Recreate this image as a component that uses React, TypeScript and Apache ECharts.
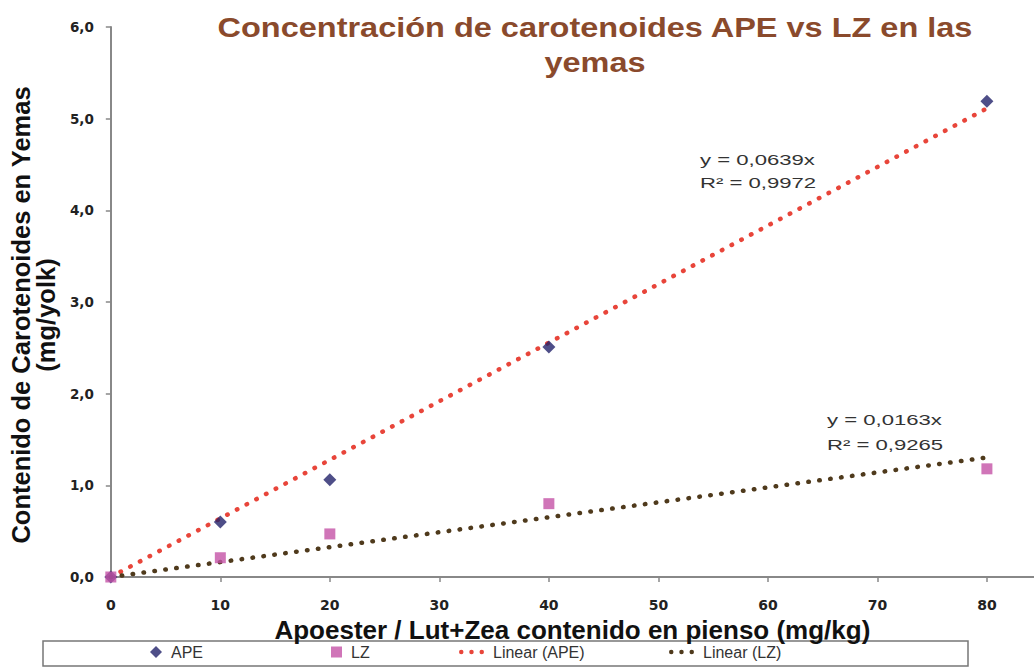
import React, { useEffect, useRef } from "react";
import * as echarts from "echarts";

const doses = [0, 10, 20, 40, 80];
const apeValues = [0, 0.6, 1.06, 2.51, 5.19];
const lzValues = [0, 0.21, 0.47, 0.8, 1.18];
const apeSlope = 0.0639;
const lzSlope = 0.0163;
const trendX = [0, 80];
const xTicks = [0, 10, 20, 30, 40, 50, 60, 70, 80];
const apeEq = ["y = 0,0639x", "R² = 0,9972"];
const lzEq = ["y = 0,0163x", "R² = 0,9265"];

const titleText = "Concentración de carotenoides APE vs LZ en las\nyemas";
const xName = "Apoester / Lut+Zea contenido en pienso (mg/kg)";
const yName = "Contenido de Carotenoides en Yemas\n(mg/yolk)";

const dotsIcon = "path://M0,5a2.2,2.2 0 1,0 4.4,0a2.2,2.2 0 1,0 -4.4,0M10,5a2.2,2.2 0 1,0 4.4,0a2.2,2.2 0 1,0 -4.4,0M20,5a2.2,2.2 0 1,0 4.4,0a2.2,2.2 0 1,0 -4.4,0";

export default function App() {
  const ref = useRef<HTMLDivElement>(null);
  useEffect(() => {
    const chart = echarts.init(ref.current!, null, { renderer: "svg" });
    const font = "'Liberation Sans', Arial, sans-serif";
    const wide = "'DejaVu Sans', Verdana, sans-serif";
    const legendBase = {
      top: 639,
      itemGap: 0,
      textStyle: { fontFamily: font, fontSize: 16, color: "#333", padding: [0, 0, 0, 4] },
    };
    chart.setOption({
      animation: false,
      backgroundColor: "#fff",
      grid: { left: 107, right: 0, top: 27, bottom: 91, containLabel: false },
      xAxis: {
        type: "value",
        min: 0,
        max: 84.3,
        interval: 10,
        name: xName,
        nameLocation: "middle",
        nameGap: 37,
        nameTextStyle: { fontFamily: font, fontSize: 26, fontWeight: "bold", color: "#111" },
        axisLine: { lineStyle: { color: "#888", width: 2 } },
        axisTick: { show: true, length: 5, customValues: xTicks, lineStyle: { color: "#888", width: 1.5 } },
        axisLabel: {
          customValues: xTicks,
          fontFamily: wide,
          fontSize: 14,
          fontWeight: "bold",
          color: "#222",
          margin: 21,
        },
        splitLine: { show: false },
      },
      yAxis: {
        type: "value",
        min: 0,
        max: 6,
        interval: 1,
        name: yName,
        nameLocation: "middle",
        nameGap: 27,
        nameTextStyle: {
          fontFamily: font,
          fontSize: 25.5,
          fontWeight: "bold",
          color: "#111",
          lineHeight: 25,
          padding: [0, 26, 0, 0],
        },
        axisLine: { show: true, lineStyle: { color: "#888", width: 2 } },
        axisTick: { show: true, length: 5, lineStyle: { color: "#888", width: 1.5 } },
        axisLabel: {
          fontFamily: wide,
          fontSize: 13.5,
          fontWeight: "bold",
          color: "#222",
          margin: 17,
          formatter: (v: number) => v.toFixed(1).replace(".", ","),
        },
        splitLine: { show: false },
      },
      legend: [
        { ...legendBase, left: 145, data: [{ name: "APE", icon: "diamond" }], itemWidth: 12, itemHeight: 12 },
        { ...legendBase, left: 326, data: [{ name: "LZ", icon: "rect" }], itemWidth: 11, itemHeight: 11 },
        { ...legendBase, left: 454, data: [{ name: "Linear (APE)", icon: dotsIcon }], itemWidth: 25, itemHeight: 5 },
        { ...legendBase, left: 664, data: [{ name: "Linear (LZ)", icon: dotsIcon }], itemWidth: 25, itemHeight: 5 },
      ],
      graphic: [
        {
          type: "text",
          x: 595,
          y: 45,
          scaleX: 1.16,
          style: {
            text: titleText,
            fontFamily: font,
            fontSize: 28,
            fontWeight: "bold",
            fill: "#8a4a2c",
            lineHeight: 35,
            textAlign: "center",
            textVerticalAlign: "middle",
          },
        },
        {
          type: "rect",
          shape: { x: 43, y: 641, width: 925, height: 25 },
          style: { fill: "none", stroke: "#777", lineWidth: 1.5 },
        },
        {
          type: "text",
          x: 700,
          y: 149,
          scaleX: 1.58,
          style: { text: apeEq.join("\n"), fontFamily: font, fontSize: 14, fill: "#333", lineHeight: 23, textVerticalAlign: "top" },
        },
        {
          type: "text",
          x: 827,
          y: 408,
          scaleX: 1.58,
          style: { text: lzEq.join("\n"), fontFamily: font, fontSize: 14, fill: "#333", lineHeight: 25, textVerticalAlign: "top" },
        },
      ],
      series: [
        {
          name: "Linear (APE)",
          type: "line",
          data: trendX.map((x) => [x, +(x * apeSlope).toFixed(4)]),
          showSymbol: false,
          symbol: "none",
          lineStyle: { color: "#e8453a", width: 4.5, type: [0.5, 10.5], cap: "round" },
          itemStyle: { color: "#e8453a" },
          z: 2,
        },
        {
          name: "Linear (LZ)",
          type: "line",
          data: trendX.map((x) => [x, +(x * lzSlope).toFixed(4)]),
          showSymbol: false,
          symbol: "none",
          lineStyle: { color: "#4f3a1c", width: 4.5, type: [0.5, 10.5], cap: "round" },
          itemStyle: { color: "#4f3a1c" },
          z: 2,
        },
        {
          name: "APE",
          type: "scatter",
          data: doses.map((d, i) => [d, apeValues[i]]),
          symbol: "diamond",
          symbolSize: 13,
          itemStyle: { color: "#22226a" },
          z: 3,
        },
        {
          name: "LZ",
          type: "scatter",
          data: doses.map((d, i) => [d, lzValues[i]]),
          symbol: "rect",
          symbolSize: 11,
          itemStyle: { color: "#c452a6" },
          z: 3,
        },
      ],
    });
    return () => chart.dispose();
  }, []);
  return <div ref={ref} style={{ width: 1034, height: 668, position: "absolute", left: 0, top: 0 }} />;
}
